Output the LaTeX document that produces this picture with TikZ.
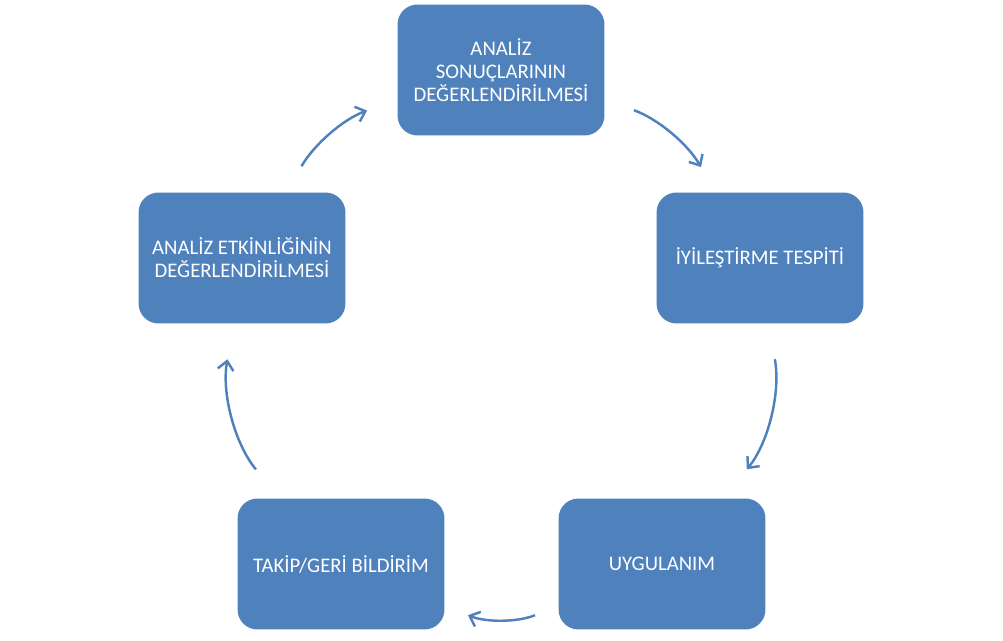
\documentclass[tikz,border=0pt]{standalone}
\usepackage{fontspec}
\setmainfont{Carlito}
\usepackage{tikz}
\usetikzlibrary{arrows.meta}
\usepackage{xcolor}
\definecolor{CycleBlue}{HTML}{4F81BD}

\tikzset{
    stepbox/.style={fill=CycleBlue, rounded corners=0.4cm, minimum width=4.14cm,
        minimum height=2.62cm, inner sep=0pt, text=white, align=center,
        font=\fontsize{11.8}{13}\selectfont},
    cyclearrow/.style={CycleBlue, line width=1.4pt, -{Straight Barb[length=5pt,width=9pt]}}
}

\begin{document}
\begin{tikzpicture}[x=0.02cm,y=-0.02cm]
    \useasboundingbox (0,0) rectangle (1003,641);
    \foreach \name/\x/\y/\txt in
    {top/501/70/{ANALİZ\\SONUÇLARININ\\DEĞERLENDİRİLMESİ},
     right/760/258/{İYİLEŞTİRME TESPİTİ},
     lowright/662/564/{UYGULANIM},
     lowleft/341/564/{TAKİP/GERİ BİLDİRİM},
     left/242/258/{ANALİZ ETKİNLİĞİNİN\\DEĞERLENDİRİLMESİ}} {
     \node[stepbox] (\name) at (\x,\y) {\txt};
    }

    \foreach \a/\b/\bend/\sa/\sb in
    {top/right/20/0.62/0.58, right/lowright/25/0.72/0.75, lowright/lowleft/22/0.5/0.5,
     lowleft/left/25/0.75/0.72, left/top/20/0.6/0.64} {
     \draw[cyclearrow, shorten <=\sa cm, shorten >=\sb cm] (\a) to[bend left=\bend] (\b);
    }
\end{tikzpicture}
\end{document}
